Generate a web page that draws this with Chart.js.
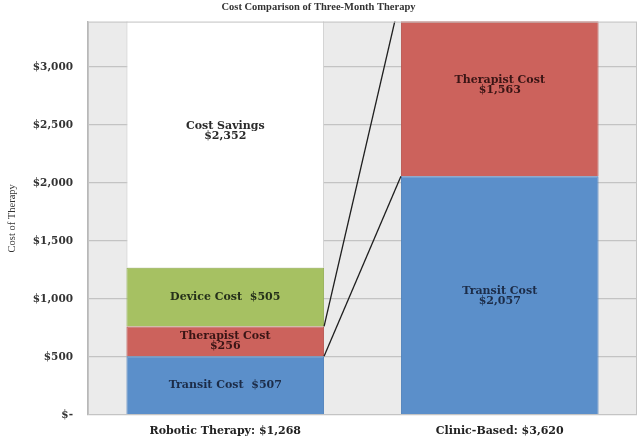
<!DOCTYPE html>
<html>
<head>
<meta charset="utf-8">
<script src="https://cdn.jsdelivr.net/npm/chart.js@4.4.1/dist/chart.umd.min.js"></script>
<style>
    html, body { margin: 0; padding: 0; background: #fff; }
    #wrap { width: 640px; height: 438px; }
</style>
</head>
<body>
<div id="wrap"><canvas id="costChart"></canvas></div>
<script>
// x axis categories
const categories = ['Robotic Therapy: $1,268', 'Clinic-Based: $3,620'];

// stacked segments, bottom to top
const transitCost = [507, 2057];
const therapistCost = [256, 1563];
const deviceCost = [505, 0];
const costSavings = [2352, 0];

// text written inside each segment
const transitText = [['Transit Cost  $507'], ['Transit Cost', '$2,057']];
const therapistText = [['Therapist Cost', '$256'], ['Therapist Cost', '$1,563']];
const deviceText = [['Device Cost  $505'], []];
const savingsText = [['Cost Savings', '$2,352'], []];

// y axis
const yTicks = [0, 500, 1000, 1500, 2000, 2500, 3000];
const yMax = 3390;

let costChart = null;

const serif = "'DejaVu Serif', serif";

// grey plot background + border
const plotFrame = {
    id: 'plotFrame',
    beforeDraw(chart) {
        const a = chart.chartArea, ctx = chart.ctx;
        ctx.save();
        ctx.fillStyle = '#ebebeb';
        ctx.fillRect(a.left, a.top, a.right - a.left, a.bottom - a.top);
        ctx.restore();
    },
    afterDraw(chart) {
        const a = chart.chartArea, ctx = chart.ctx;
        ctx.save();
        ctx.strokeStyle = '#c4c4c4';
        ctx.lineWidth = 1;
        ctx.strokeRect(a.left + 0.5, a.top + 0.5, a.right - a.left - 1, a.bottom - a.top - 1);
        ctx.restore();
    }
};

// lines joining the segment tops of the two bars
const connectors = {
    id: 'connectors',
    afterDatasetsDraw(chart) {
        const a = chart.chartArea, ctx = chart.ctx;
        ctx.save();
        ctx.beginPath();
        ctx.rect(a.left, a.top, a.right - a.left, a.bottom - a.top);
        ctx.clip();
        ctx.strokeStyle = '#1e1e1e';
        ctx.lineWidth = 1.3;
        [0, 1].forEach(i => {
            const els = chart.getDatasetMeta(i).data;
            const from = els[0], to = els[1];
            ctx.beginPath();
            ctx.moveTo(from.x + from.width / 2, from.y);
            ctx.lineTo(to.x - to.width / 2, to.y);
            ctx.stroke();
        });
        ctx.restore();
    }
};

// centred text in each segment
const segmentLabels = {
    id: 'segmentLabels',
    afterDatasetsDraw(chart) {
        const ctx = chart.ctx, y = chart.scales.y;
        ctx.save();
        ctx.font = "bold 11px " + serif;
        ctx.textAlign = 'center';
        ctx.textBaseline = 'middle';
        chart.data.datasets.forEach((ds, i) => {
            const meta = chart.getDatasetMeta(i);
            meta.data.forEach((el, j) => {
                const lines = ds.texts[j];
                if (!lines || !lines.length) return;
                let base = 0;
                for (let k = 0; k < i; k++) base += chart.data.datasets[k].data[j];
                const cy = y.getPixelForValue(base + ds.data[j] / 2);
                ctx.fillStyle = ds.textColor;
                lines.forEach((t, n) => {
                    ctx.fillText(t, el.x, cy + (n - (lines.length - 1) / 2) * 10);
                });
            });
        });
        ctx.restore();
    }
};

function drawCostChart() {
    if (costChart !== null) {
        costChart.destroy();
    }
    const ctx = document.getElementById('costChart').getContext('2d');

    costChart = new Chart(ctx, {
        type: 'bar',
        data: {
            labels: categories,
            datasets: [
                { label: 'Transit Cost', data: transitCost, texts: transitText, textColor: '#1c2c48',
                  backgroundColor: '#5b8fca', borderColor: '#4f80bb', borderWidth: 1 },
                { label: 'Therapist Cost', data: therapistCost, texts: therapistText, textColor: '#3a1515',
                  backgroundColor: '#cc625c', borderColor: '#b85650', borderWidth: 1 },
                { label: 'Device Cost', data: deviceCost, texts: deviceText, textColor: '#25301a',
                  backgroundColor: '#a6c162', borderColor: '#97b157', borderWidth: 1 },
                { label: 'Cost Savings', data: costSavings, texts: savingsText, textColor: '#2a2a2a',
                  backgroundColor: '#ffffff', borderColor: '#cfcfcf', borderWidth: 1 }
            ]
        },
        options: {
            responsive: true,
            maintainAspectRatio: false,
            animation: false,
            layout: { padding: { left: 0, right: 3, top: 0, bottom: 0 } },
            datasets: {
                bar: { barPercentage: 0.72, categoryPercentage: 1.0 }
            },
            scales: {
                x: {
                    stacked: true,
                    grid: { display: false, drawTicks: false },
                    border: { display: false },
                    ticks: {
                        color: '#222',
                        padding: 10,
                        font: { family: serif, size: 11, weight: 'bold' }
                    },
                    afterFit(scale) { scale.height = 23; }
                },
                y: {
                    stacked: true,
                    min: 0,
                    max: yMax,
                    grid: { color: '#c3c3c3', lineWidth: 1.3, drawTicks: false },
                    border: { color: '#b8b8b8', width: 1.5 },
                    afterBuildTicks(scale) {
                        scale.ticks = yTicks.map(v => ({ value: v }));
                    },
                    ticks: {
                        color: '#333',
                        padding: 15,
                        font: { family: serif, size: 10.5, weight: 'bold' },
                        callback: v => v === 0 ? '$-' : '$' + v.toLocaleString('en-US')
                    },
                    title: {
                        display: true,
                        text: 'Cost of Therapy',
                        color: '#333',
                        font: { family: "'Liberation Serif', serif", size: 10.5 },
                        padding: { top: 6, bottom: 0 }
                    },
                    afterFit(scale) { scale.width = 88; }
                }
            },
            plugins: {
                legend: { display: false },
                tooltip: { enabled: false },
                title: {
                    display: true,
                    text: 'Cost Comparison of Three-Month Therapy',
                    color: '#333',
                    font: { family: "'Liberation Serif', serif", size: 10.5, weight: 'bold' },
                    padding: { top: 1, bottom: 8 }
                }
            }
        },
        plugins: [plotFrame, connectors, segmentLabels]
    });
}

document.addEventListener('DOMContentLoaded', drawCostChart);
</script>
</body>
</html>
